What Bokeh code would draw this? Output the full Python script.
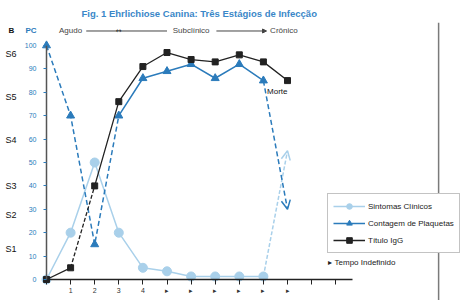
from bokeh.plotting import figure
from bokeh.models import (Range1d, LinearAxis, FixedTicker, Legend, LegendItem,
                          Span, Arrow, OpenHead, NormalHead)
from bokeh.core.properties import value
from bokeh.embed import file_html
from bokeh.resources import INLINE

# ---------------- data ----------------
title_text = "Fig. 1 Ehrlichiose Canina: Três Estágios de Infecção"
x_idx = [0, 1, 2, 3, 4, 5, 6, 7, 8, 9, 10]
sintomas = [0, 20, 50, 20, 5, 3.5, 1.3, 1.3, 1.3, 1.3, 55]
plaquetas = [100, 70, 15, 70, 86, 89, 92, 86, 92, 85, 30]
igg = [0, 5, 40, 76, 91, 97, 94, 93, 96, 93, 85]

x_ticks = [0, 1, 2, 3, 4, 5, 6, 7, 8, 9, 10, 11, 12]
x_tick_labels = ["", "1", "2", "3", "4", "▸", "▸", "▸", "▸", "▸", "▸", "", ""]
pc_ticks = [0, 10, 20, 30, 40, 50, 60, 70, 80, 90, 100]
b_ticks = [13, 27.5, 40, 59.5, 78, 96.5]
b_labels = ["S1", "S2", "S3", "S4", "S5", "S6"]
axis_headers = ["B", "PC"]
phases = ["Agudo", "Subclínico", "Crônico"]
phase_x = [1.0, 6.0, 9.85]
legend_labels = ["Sintomas Clínicos", "Contagem de Plaquetas", "Título IgG"]

# ---------------- style ----------------
LIGHT = "#a9d0ea"
BLUE = "#2b7bbb"
DARK = "#222222"
TITLE_BLUE = "#3a87c8"
FONT = "Liberation Sans"
PX_X = 24.1          # pixels per x unit
PX_Y = 2.34          # pixels per y unit
W, H = 464, 300
X0_PX, Y0_PX = 46, 279   # canvas position of the data origin
MT = 22

p = figure(width=W, height=H, output_backend="svg", toolbar_location=None,
           x_range=Range1d(-X0_PX / PX_X, (W - X0_PX) / PX_X),
           y_range=Range1d(-(H - Y0_PX) / PX_Y, (Y0_PX - MT) / PX_Y),
           min_border_left=0, min_border_right=0,
           min_border_top=MT, min_border_bottom=0)
p.outline_line_color = None
p.xgrid.visible = False
p.ygrid.visible = False
p.background_fill_color = "white"

p.title.text = title_text
p.title.text_font = FONT
p.title.text_font_size = "9.5px"
p.title.text_font_style = "bold"
p.title.text_color = TITLE_BLUE
p.title.align = "left"
p.title.offset = 81
p.title.standoff = 8

# page fold line
p.add_layout(Span(location=16.27, dimension="height", line_color="#7a7a7a", line_width=1.5))

# x axis
xa = p.xaxis[0]
xa.fixed_location = 0
xa.ticker = FixedTicker(ticks=x_ticks)
xa.major_label_overrides = {t: l for t, l in zip(x_ticks, x_tick_labels)}
xa.bounds = (0, 12.7)
xa.axis_line_color = DARK
xa.axis_line_width = 1.5
xa.major_tick_line_color = DARK
xa.major_tick_out = 5
xa.major_tick_in = 0
xa.minor_tick_line_color = None
xa.major_label_standoff = 2
xa.major_label_text_font = FONT
xa.major_label_text_font_size = "7px"
xa.major_label_text_color = "#333333"

# PC axis
ya = p.yaxis[0]
ya.fixed_location = 0
ya.ticker = FixedTicker(ticks=pc_ticks)
ya.bounds = (0, 100)
ya.axis_line_color = "#555555"
ya.axis_line_width = 1.5
ya.major_tick_line_color = BLUE
ya.major_tick_out = 3
ya.major_tick_in = 0
ya.minor_tick_line_color = None
ya.major_label_standoff = 7
ya.major_label_text_font = FONT
ya.major_label_text_font_size = "7px"
ya.major_label_text_color = BLUE

# B axis (S labels)
ba = LinearAxis(ticker=FixedTicker(ticks=b_ticks),
                major_label_overrides={t: l for t, l in zip(b_ticks, b_labels)})
ba.fixed_location = -28 / PX_X
ba.axis_line_color = None
ba.major_tick_line_color = None
ba.minor_tick_line_color = None
ba.major_tick_out = 0
ba.major_tick_in = 0
ba.major_label_standoff = 2
ba.major_label_text_font = FONT
ba.major_label_text_font_size = "9px"
ba.major_label_text_color = "#111111"
p.add_layout(ba, "left")

# ---------------- series ----------------
# Sintomas clínicos
s_line = p.line(x_idx[:10], sintomas[:10], line_color=LIGHT, line_width=1.5)
s_pts = p.scatter(x_idx[:10], sintomas[:10], marker="circle", size=9,
                  fill_color=LIGHT, line_color=LIGHT)
p.add_layout(Arrow(x_start=x_idx[9], y_start=sintomas[9], x_end=x_idx[10], y_end=sintomas[10],
                   line_color=LIGHT, line_width=1.5, line_dash="4 2",
                   end=OpenHead(size=9, line_color=LIGHT, line_width=1.5)))

# Contagem de plaquetas
p.line(x_idx[0:4], plaquetas[0:4], line_color=BLUE, line_width=1.5, line_dash="5 3")
pl_line = p.line(x_idx[3:10], plaquetas[3:10], line_color=BLUE, line_width=1.5)
pl_pts = p.scatter(x_idx[:10], plaquetas[:10], marker="triangle", size=8,
                   fill_color=BLUE, line_color=BLUE)
p.add_layout(Arrow(x_start=x_idx[9], y_start=plaquetas[9], x_end=x_idx[10], y_end=plaquetas[10],
                   line_color=BLUE, line_width=1.5, line_dash="5 3",
                   end=OpenHead(size=9, line_color=BLUE, line_width=1.5)))

# Título IgG
p.line(x_idx[0:2], igg[0:2], line_color=DARK, line_width=1.3)
p.line(x_idx[1:3], igg[1:3], line_color=DARK, line_width=1.3, line_dash="4 2")
g_line = p.line(x_idx[2:], igg[2:], line_color=DARK, line_width=1.3)
g_pts = p.scatter(x_idx, igg, marker="square", size=6, fill_color=DARK, line_color=DARK)

# Morte label
p.text(x=[9.15], y=[80.5], text=["Morte"], text_font=value(FONT), text_font_size="8px",
       text_color="#111111", text_align="left", text_baseline="middle")

# phase header
HY = 106.2
p.text(x=phase_x, y=[HY] * 3, text=phases, text_font=value(FONT), text_font_size="8px",
       text_color="#444444", text_align="center", text_baseline="middle")
p.segment(x0=[phase_x[0] + 0.65], y0=[HY], x1=[phase_x[1] - 1.0], y1=[HY],
          line_color="#444444", line_width=1)
p.text(x=[3.0], y=[HY], text=["↔"], text_font=value("DejaVu Sans"), text_font_size="7px",
       text_color="#333333", text_align="center", text_baseline="middle")
p.add_layout(Arrow(x_start=phase_x[1] + 1.05, y_start=HY, x_end=phase_x[2] - 0.72, y_end=HY,
                   line_color="#444444", line_width=1,
                   end=NormalHead(size=4, fill_color="#444444", line_color="#444444")))

# axis headers
p.text(x=[-38 / PX_X], y=[HY], text=[axis_headers[0]], text_font=value(FONT), text_font_size="8px",
       text_font_style="bold", text_color="#111111", text_align="left", text_baseline="middle")
p.text(x=[-21 / PX_X], y=[HY], text=[axis_headers[1]], text_font=value(FONT), text_font_size="8px",
       text_font_style="bold", text_color=BLUE, text_align="left", text_baseline="middle")

# tempo indefinido
p.text(x=[11.7], y=[7.3], text=["▸  Tempo Indefinido"], text_font=value(FONT), text_font_size="8px",
       text_color="#222222", text_align="left", text_baseline="middle")

# legend
legend = Legend(items=[LegendItem(label=legend_labels[0], renderers=[s_line, s_pts]),
                       LegendItem(label=legend_labels[1], renderers=[pl_line, pl_pts]),
                       LegendItem(label=legend_labels[2], renderers=[g_line, g_pts])],
                location=(327, H - 253), orientation="vertical")
legend.border_line_color = "#888888"
legend.border_line_width = 1
legend.background_fill_color = "white"
legend.background_fill_alpha = 1
legend.label_text_font = FONT
legend.label_text_font_size = "8px"
legend.label_text_color = "#222222"
legend.glyph_width = 32
legend.glyph_height = 14
legend.label_height = 14
legend.spacing = 3
legend.padding = 5
legend.label_standoff = 3
legend.margin = 0
p.add_layout(legend)

open("out.html", "w").write(file_html(p, INLINE))
